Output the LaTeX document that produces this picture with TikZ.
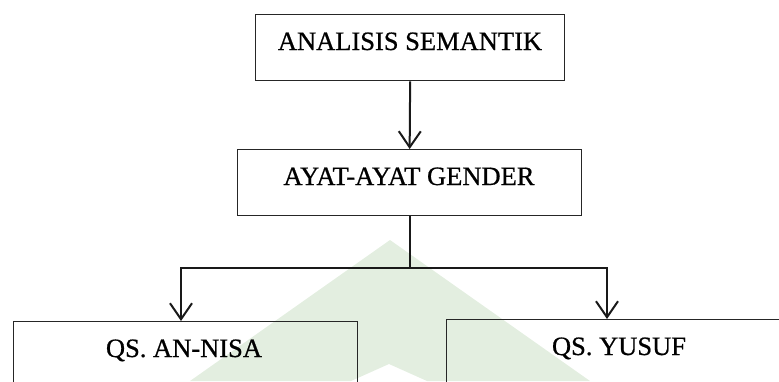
\documentclass[tikz,border=0pt]{standalone}
\usepackage{fontspec}
\setmainfont{Liberation Serif}
\newfontfamily\heavyserif[FakeBold=0.7]{Liberation Serif}
\usetikzlibrary{arrows.meta}
\definecolor{wmgreen}{RGB}{227,238,224}
\begin{document}
\begin{tikzpicture}[x=1pt,y=-1pt,
  box/.style={draw=black!85, line width=1.3pt, rectangle, inner sep=0pt, anchor=north west},
  lbl/.style={font=\heavyserif\fontsize{26.5}{30}\selectfont, anchor=base, inner sep=0pt, text=black},
  conn/.style={line width=2pt, draw=black!90},
  arr/.style={conn, -{Straight Barb[length=16pt,width=22pt,line width=2pt]}}]
\useasboundingbox (0,0) rectangle (779,381);
\clip (0,0) rectangle (779,381);
% watermark
\fill[wmgreen] (190,381) -- (390,240) -- (590,381) -- (427,381) -- (389,364) -- (351,381) -- cycle;
% boxes
\node[box, minimum width=309pt, minimum height=66pt] (top) at (255,14) {};
\node[box, minimum width=344pt, minimum height=66pt] (mid) at (237,149) {};
\node[box, minimum width=344pt, minimum height=100pt] (left) at (13,321) {};
\node[box, minimum width=346pt, minimum height=100pt] (right) at (446,319) {};
% labels
\node[lbl] (ttop) at (410,50) {ANALISIS SEMANTIK};
\node[lbl] (tmid) at (409,185) {AYAT-AYAT GENDER};
\node[lbl] (tleft) at (184,357) {QS. AN-NISA};
\node[lbl] (tright) at (619,355) {QS. YUSUF};
% connectors
\coordinate (bl) at (181,268);
\coordinate (br) at (607,268);
\coordinate (bm) at (mid.south |- bl);
\draw[arr] (top.south) -- (mid.north);
\draw[conn] (mid.south) -- (bm);
\draw[arr] (bm) -- (bl) -- (left.north -| bl);
\draw[arr] (bm) -- (br) -- (right.north -| br);
\end{tikzpicture}
\end{document}
